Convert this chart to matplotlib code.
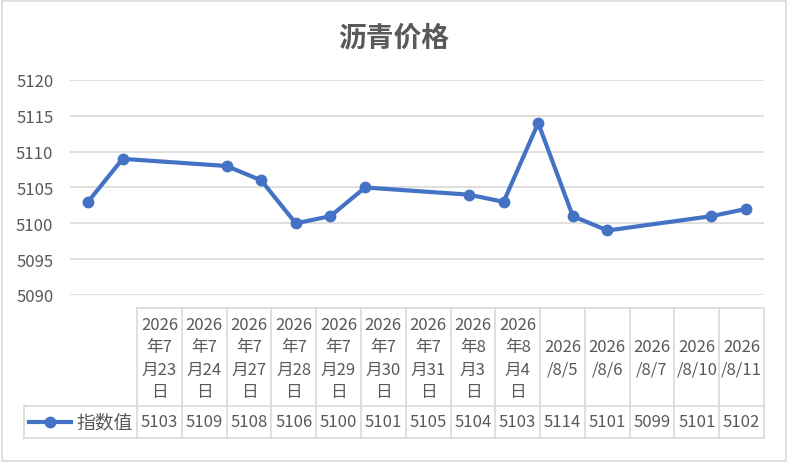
import datetime as dt
import matplotlib.pyplot as plt
from matplotlib.lines import Line2D
from matplotlib.patches import Rectangle

plt.rcParams['font.family'] = ['Noto Sans CJK SC', 'DejaVu Sans']

# data
dates = ["2026-07-23", "2026-07-24", "2026-07-27", "2026-07-28", "2026-07-29",
         "2026-07-30", "2026-07-31", "2026-08-03", "2026-08-04", "2026-08-05",
         "2026-08-06", "2026-08-07", "2026-08-10", "2026-08-11"]
labels = ["2026\n年7\n月23\n日", "2026\n年7\n月24\n日", "2026\n年7\n月27\n日",
          "2026\n年7\n月28\n日", "2026\n年7\n月29\n日", "2026\n年7\n月30\n日",
          "2026\n年7\n月31\n日", "2026\n年8\n月3\n日", "2026\n年8\n月4\n日",
          "2026\n/8/5", "2026\n/8/6", "2026\n/8/7", "2026\n/8/10", "2026\n/8/11"]
values = [5103, 5109, 5108, 5106, 5100, 5101, 5105, 5104, 5103, 5114, 5101, 5099, 5101, 5102]
series_name = "指数值"
title = "沥青价格"
yticks = [5090, 5095, 5100, 5105, 5110, 5115, 5120]

W, H = 788, 464
blue = "#4472C4"
grid = "#d9d9d9"
txt = "#595959"

fig = plt.figure(figsize=(W / 100, H / 100), dpi=100)

def fx(x):
    return x / W

def fy(y):
    return 1 - y / H

# chart border
fig.patches.append(Rectangle((fx(2), fy(462)), fx(784), 460 / H, transform=fig.transFigure,
                             fill=False, edgecolor=grid, lw=1.2))

fig.text(fx(394), fy(38), title, ha="center", va="center", fontsize=20,
         fontweight="bold", color=txt)

# plot area
L, R, T, B = 70, 764, 81, 296
ax = fig.add_axes([fx(L), fy(B), (R - L) / W, (B - T) / H])
days = [(dt.date.fromisoformat(d) - dt.date.fromisoformat(dates[0])).days for d in dates]
ax.plot(days, values, color=blue, lw=3, marker="o", ms=7.5, solid_joinstyle="round")
ax.set_xlim(days[0] - 0.52, days[-1] + 0.52)
ax.set_ylim(yticks[0], yticks[-1])
ax.set_yticks(yticks)
ax.yaxis.grid(True, color=grid, lw=1.2)
ax.set_axisbelow(True)
ax.set_xticks([])
ax.tick_params(axis="y", length=0, labelsize=12, labelcolor=txt, pad=12)
for s in ax.spines.values():
    s.set_visible(False)

# data table
n = len(values)
c0, c1 = 137, 764
cw = (c1 - c0) / n
t0, t1, t2 = 309, 407, 439
leg_l = 24

def hline(x0, x1, y):
    fig.add_artist(Line2D([fx(x0), fx(x1)], [fy(y), fy(y)], color=grid, lw=1.2))

def vline(x, y0, y1):
    fig.add_artist(Line2D([fx(x), fx(x)], [fy(y0), fy(y1)], color=grid, lw=1.2))

hline(c0, c1, t0)
hline(leg_l, c1, t1)
hline(leg_l, c1, t2)
vline(leg_l, t1, t2)
for i in range(n + 1):
    vline(c0 + i * cw, t0, t2)

for i in range(n):
    cx = c0 + (i + 0.5) * cw
    fig.text(fx(cx), fy((t0 + t1) / 2 + 1), labels[i], ha="center", va="center",
             fontsize=12, color=txt, linespacing=1.42)
    fig.text(fx(cx), fy((t1 + t2) / 2), str(values[i]), ha="center", va="center",
             fontsize=12, color=txt)

# legend key
fig.add_artist(Line2D([fx(29), fx(71)], [fy(423), fy(423)], color=blue, lw=3,
                      marker=None))
fig.add_artist(Line2D([fx(50)], [fy(423)], color=blue, marker="o", ms=7.5, lw=0))
fig.text(fx(76), fy(423), series_name, ha="left", va="center", fontsize=13.5, color=txt)

fig.savefig("out.png", dpi=100)
